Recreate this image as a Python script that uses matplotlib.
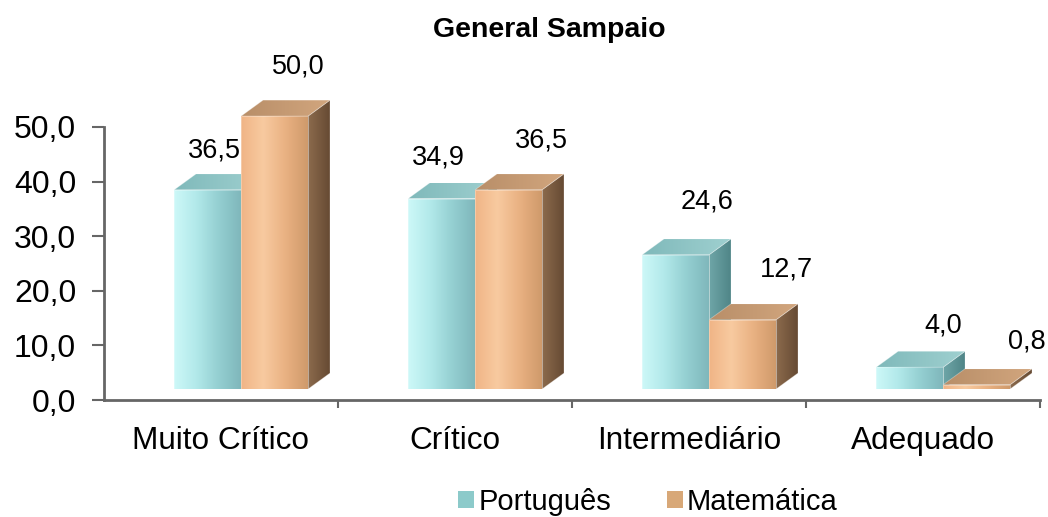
import numpy as np
import matplotlib.pyplot as plt
from matplotlib.patches import Polygon, Patch
from matplotlib.colors import LinearSegmentedColormap

plt.rcParams['font.family'] = ['Liberation Sans', 'DejaVu Sans']

titulo = 'General Sampaio'
categorias = ['Muito Crítico', 'Crítico', 'Intermediário', 'Adequado']
series = ['Português', 'Matemática']
portugues = [36.5, 34.9, 24.6, 4.0]
matematica = [50.0, 36.5, 12.7, 0.8]
yticks = [0, 10, 20, 30, 40, 50]

# ajuste fino dos rótulos (pontos), relativo ao canto de trás do topo
ajuste_port = [(-11, 16.5), (-18, 18), (6.5, 26.5), (8, 18.5)]
ajuste_mat = [(1.5, 24), (8, 24), (16, 24.5), (20, 19.5)]

# cores: frente (degradê), topo, lado
cores_port = dict(frente=['#cdf8f8', '#b2e9ea', '#94cfd1', '#7fb7bb'],
                  topo=['#7fb9ba', '#9fd0d0'], lado=['#6fa6a8', '#4f8587'])
cores_mat = dict(frente=['#f0b486', '#f8caa0', '#e9b182', '#cf9a6b'],
                 topo=['#b88e68', '#d2a67e'], lado=['#8c6b4d', '#664a33'])

fig = plt.figure(figsize=(10.48, 5.17), dpi=100)
# eixo cobre da linha do zero até quase o topo da figura
ax = fig.add_axes([104 / 1048, 117 / 517, 936 / 1048, 390 / 517])
ymax = 50 + (127 - 10) / 5.46
ax.set_xlim(-0.5, 3.5)
ax.set_ylim(0, ymax)

largura = 0.286
desloc = [-0.20, 0.086]
prof_x, prof_y = 0.094, 2.93
base = 2.0


def degrade(verts, cores, z):
    poly = Polygon(verts, closed=True, facecolor='none', edgecolor='none')
    ax.add_patch(poly)
    cmap = LinearSegmentedColormap.from_list('d', cores)
    g = np.linspace(0, 1, 256).reshape(1, -1)
    xs = [p[0] for p in verts]
    ys = [p[1] for p in verts]
    im = ax.imshow(g, cmap=cmap, extent=(min(xs), max(xs), min(ys), max(ys)),
                   aspect='auto', origin='lower', interpolation='bicubic', zorder=z)
    im.set_clip_path(poly)
    ax.add_patch(Polygon(verts, closed=True, facecolor='none',
                         edgecolor=(1, 1, 1, 0.35), lw=0.6, zorder=z + 0.01))


def barra3d(xc, v, cores, z):
    x0, x1 = xc, xc + largura
    y0, y1 = base, base + v
    frente = [(x0, y0), (x1, y0), (x1, y1), (x0, y1)]
    topo = [(x0, y1), (x1, y1), (x1 + prof_x, y1 + prof_y), (x0 + prof_x, y1 + prof_y)]
    lado = [(x1, y0), (x1 + prof_x, y0 + prof_y), (x1 + prof_x, y1 + prof_y), (x1, y1)]
    degrade(lado, cores['lado'], z)
    degrade(topo, cores['topo'], z + 0.1)
    degrade(frente, cores['frente'], z + 0.2)


x = np.arange(len(categorias))
grupos = [(portugues, cores_port, ajuste_port), (matematica, cores_mat, ajuste_mat)]
for i in x:
    for s, (vals, cores, ajuste) in enumerate(grupos):
        v = vals[i]
        xc = i + desloc[s]
        barra3d(xc, v, cores, 2 + i + s * 0.5)
        ax.annotate(f'{v:.1f}'.replace('.', ','),
                    (xc + largura / 2 + prof_x, base + v + prof_y),
                    xytext=ajuste[i], textcoords='offset points',
                    ha='center', va='center', fontsize=19.5, zorder=10)

ax.set_xlim(-0.5, 3.5)
ax.set_ylim(0, ymax)

for lado in ['top', 'right']:
    ax.spines[lado].set_visible(False)
for lado in ['left', 'bottom']:
    ax.spines[lado].set_color('#666666')
    ax.spines[lado].set_linewidth(2)
ax.spines['left'].set_bounds(0, 50)

ax.set_yticks(yticks)
ax.set_yticklabels([f'{t:.1f}'.replace('.', ',') for t in yticks], fontsize=23)
ax.tick_params(axis='y', direction='out', length=9, width=1.5, color='#666666', pad=11)

ax.set_xticks(x)
ax.set_xticklabels(categorias, fontsize=22.7)
ax.tick_params(axis='x', length=0, pad=19)
ax.set_xticks(np.arange(0.5, 4, 1), minor=True)
ax.tick_params(axis='x', which='minor', direction='out', length=6, width=1.5, color='#666666')

fig.text(549 / 1048, 1 - 30 / 517, titulo, ha='center', va='center',
         fontsize=20.5, fontweight='bold')

handles = [Patch(facecolor='#8ccaca', edgecolor='none'),
           Patch(facecolor='#d8a878', edgecolor='none')]
fig.legend(handles, series, loc='center', bbox_to_anchor=(648 / 1048, 15 / 517),
           ncol=2, frameon=False, fontsize=21, handlelength=0.55, handleheight=0.55,
           handletextpad=0.15, columnspacing=1.9, borderpad=0)

fig.savefig('out.png', dpi=100)
